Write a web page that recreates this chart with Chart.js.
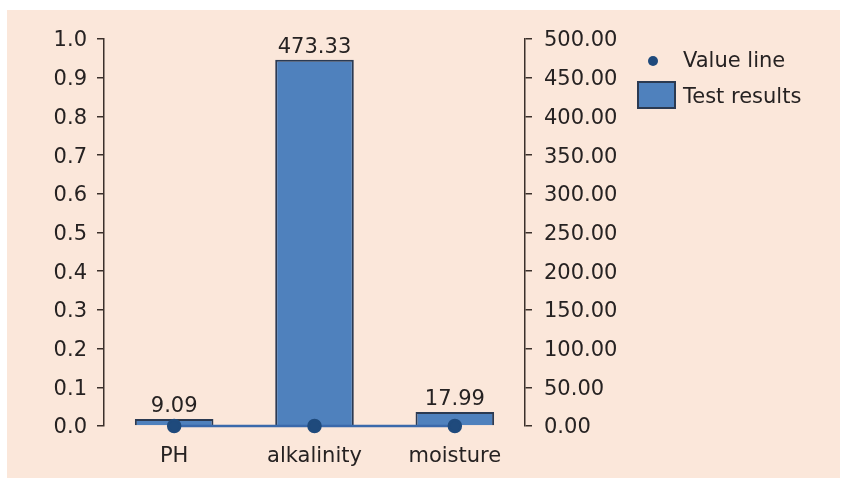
<!DOCTYPE html>
<html>
<head>
<meta charset="utf-8">
<script src="https://cdn.jsdelivr.net/npm/chart.js@4/dist/chart.umd.min.js"></script>
<style>
  html, body { margin: 0; padding: 0; background: #ffffff; }
  #panel {
    position: absolute; left: 7px; top: 10px;
    width: 833px; height: 468px;
    background: #fbe7da;
  }
</style>
</head>
<body>
<div id="panel"><canvas id="testChart" width="833" height="468"></canvas></div>
<script>
// data
const categories = ['PH', 'alkalinity', 'moisture'];
const testResults = [9.09, 473.33, 17.99];
const valueLine = [0, 0, 0];
const leftTicks = [0, 0.1, 0.2, 0.3, 0.4, 0.5, 0.6, 0.7, 0.8, 0.9, 1.0];
const rightTicks = [0, 50, 100, 150, 200, 250, 300, 350, 400, 450, 500];

const barFill = '#4f81bd';
const barEdge = '#2b3a52';
const dotColor = '#1f4a7c';
const axisColor = '#3b302b';
const textColor = '#262222';
const fontFamily = '"DejaVu Sans", sans-serif';

// labels above the bars
const barLabels = {
    id: 'barLabels',
    afterDatasetsDraw(chart) {
        const ctx = chart.ctx;
        const meta = chart.getDatasetMeta(1);
        ctx.save();
        ctx.font = '21px ' + fontFamily;
        ctx.fillStyle = textColor;
        ctx.textAlign = 'center';
        ctx.textBaseline = 'bottom';
        meta.data.forEach((bar, i) => {
            ctx.fillText(testResults[i].toFixed(2), bar.x, bar.y - 2);
        });
        ctx.restore();
    }
};

// legend on the right
const sideLegend = {
    id: 'sideLegend',
    afterDraw(chart) {
        const ctx = chart.ctx;
        const x0 = chart.chartArea.right + 113;
        const y0 = chart.chartArea.top + 22;
        ctx.save();
        ctx.font = '21px ' + fontFamily;
        ctx.fillStyle = dotColor;
        ctx.beginPath();
        ctx.arc(x0 + 15, y0, 5, 0, Math.PI * 2);
        ctx.fill();
        ctx.fillStyle = barFill;
        ctx.strokeStyle = barEdge;
        ctx.lineWidth = 2;
        ctx.fillRect(x0, y0 + 21, 37, 26);
        ctx.strokeRect(x0, y0 + 21, 37, 26);
        ctx.fillStyle = textColor;
        ctx.textBaseline = 'middle';
        ctx.fillText('Value line', x0 + 45, y0 + 1);
        ctx.fillText('Test results', x0 + 45, y0 + 37);
        ctx.restore();
    }
};

const ctx = document.getElementById('testChart').getContext('2d');

new Chart(ctx, {
    type: 'bar',
    data: {
        labels: categories,
        datasets: [
            {
                type: 'line',
                label: 'Value line',
                data: valueLine,
                yAxisID: 'y',
                borderColor: '#3a69ab',
                borderWidth: 2.5,
                pointRadius: 6,
                pointBackgroundColor: dotColor,
                pointBorderColor: dotColor,
                order: 0,
                clip: false
            },
            {
                label: 'Test results',
                data: testResults,
                yAxisID: 'y2',
                backgroundColor: barFill,
                borderColor: barEdge,
                borderWidth: 2,
                categoryPercentage: 0.56,
                barPercentage: 1.0,
                order: 1
            }
        ]
    },
    options: {
        responsive: false,
        animation: false,
        layout: { padding: { top: 29, right: 215, left: 0, bottom: 0 } },
        plugins: {
            legend: { display: false },
            tooltip: { enabled: false }
        },
        scales: {
            x: {
                grid: { display: false, drawTicks: false },
                border: { display: false },
                ticks: { color: textColor, font: { size: 21, family: fontFamily }, padding: 18 },
                afterFit: s => { s.height = 52; }
            },
            y: {
                position: 'left',
                min: 0, max: 1,
                afterBuildTicks: s => { s.ticks = leftTicks.map(v => ({ value: v })); },
                ticks: {
                    color: textColor,
                    font: { size: 21, family: fontFamily },
                    padding: 10,
                    labelOffset: 2,
                    callback: v => Number(v).toFixed(1)
                },
                grid: { drawOnChartArea: false, tickLength: 7, color: axisColor, lineWidth: 1.5 },
                border: { color: axisColor, width: 1.5 },
                afterFit: s => { s.width = 97; }
            },
            y2: {
                position: 'right',
                min: 0, max: 500,
                afterBuildTicks: s => { s.ticks = rightTicks.map(v => ({ value: v })); },
                ticks: {
                    color: textColor,
                    font: { size: 21, family: fontFamily },
                    padding: 12,
                    labelOffset: 2,
                    callback: v => Number(v).toFixed(2)
                },
                grid: { drawOnChartArea: false, tickLength: 7, color: axisColor, lineWidth: 1.5 },
                border: { color: axisColor, width: 1.5 },
                afterFit: s => { s.width = 100; }
            }
        }
    },
    plugins: [barLabels, sideLegend]
});
</script>
</body>
</html>
